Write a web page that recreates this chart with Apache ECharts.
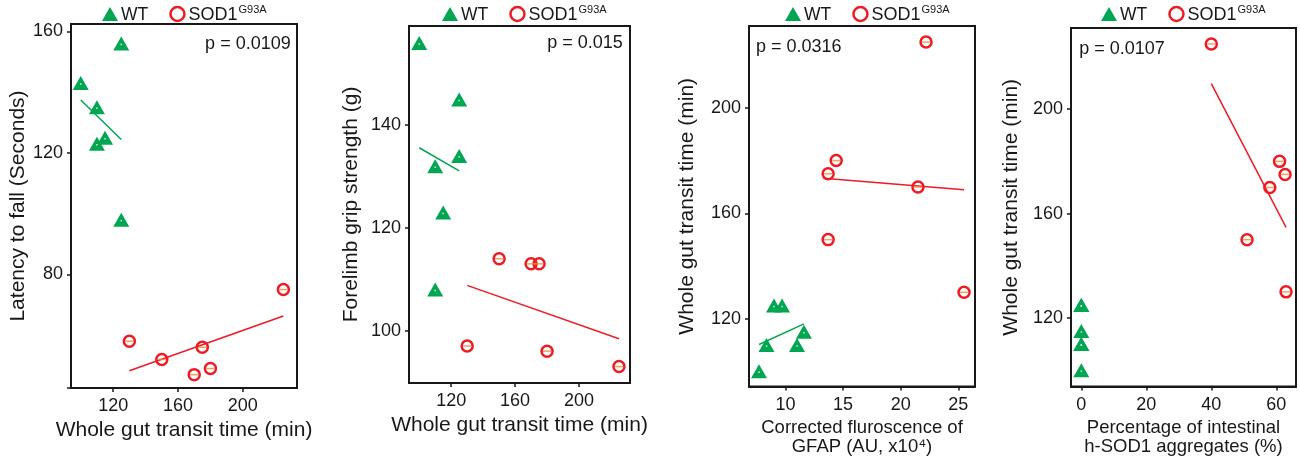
<!DOCTYPE html>
<html>
<head>
<meta charset="utf-8">
<script src="https://cdn.jsdelivr.net/npm/echarts@6/dist/echarts.min.js"></script>
<style>html,body{margin:0;padding:0;background:#fff}#c{width:1300px;height:461px}</style>
</head>
<body>
<div id="c"></div>
<script>
// ---- data ----
const wtLatencyTransit = [100,110,110,115,125,125];
const wtLatency        = [143,135,123,125,156,98];
const sodLatencyTransit= [130,150,170,175,180,225];
const sodLatency       = [58,52,47,56,49,75];
const wtLatencyFit     = [[100,137.4],[125,124.4]];
const sodLatencyFit    = [[130,48.3],[225,66.3]];

const wtGripTransit    = [100,110,110,115,125,125];
const wtGrip           = [156,132,108,123,145,134];
const sodGripTransit   = [130,150,170,175,180,225];
const sodGrip          = [97,114,113,113,96,93];
const wtGripFit        = [[100,135.6],[125,131.1]];
const sodGripFit       = [[130,108.8],[225,98.4]];

const wtGfap           = [7.7,8.35,9.0,9.7,11.0,11.6];
const wtGfapTransit    = [100,110,125,125,110,115];
const sodGfap          = [13.7,14.4,13.7,21.5,22.2,25.5];
const sodGfapTransit   = [175,180,150,170,225,130];
const wtGfapFit        = [[7.7,110.2],[11.6,118.0]];
const sodGfapFit       = [[13.3,173.3],[25.5,168.9]];

const wtAgg            = [0,0,0,0,0,0];
const wtAggTransit     = [100,110,110,115,125,125];
const sodAgg           = [40,51,58,61,62.7,63];
const sodAggTransit    = [225,150,170,180,175,130];
const sodAggFit        = [[40,209.8],[63,154.7]];

const xTicks = [[120,160,200],[120,160,200],[10,15,20,25],[0,20,40,60]];
const yTicks = [[80,120,160],[100,120,140],[120,160,200],[120,160,200]];
const xNames = ['Whole gut transit time (min)','Whole gut transit time (min)','Corrected fluroscence of\nGFAP (AU, x10⁴)','Percentage of intestinal\nh-SOD1 aggregates (%)'];
const yNames = ['Latency to fall (Seconds)','Forelimb grip strength (g)','Whole gut transit time (min)','Whole gut transit time (min)'];
const pValues = ['p = 0.0109','p = 0.015','p = 0.0316','p = 0.0107'];
const legendNames = ['WT','SOD1'];
const supText = 'G93A';

// ---- layout / style ----
const FONT = "'Liberation Sans', Arial, Helvetica, sans-serif";
const INK = '#1a1718';
const GREEN = '#00a651';
const RED = '#ed1c24';
const grids = [
  {left:71, top:24, width:226, height:364},
  {left:409, top:26, width:221, height:357},
  {left:749, top:26, width:226, height:363},
  {left:1071, top:28, width:225, height:364}
];
const xRanges = [[94,233.4],[93.6,231.9],[6.83,26.45],[-3.17,66.06]];
const yRanges = [[42.6,162.4],[89.8,159.3],[94.2,231.1],[93.7,231.1]];
const yNameGaps = [36,47,51,49.5];
const xNameGaps = [25,25,29.5,32];
const xNameSizes = [21,21,18.5,18.5];
const legendLeft = [97,437,780,1096];

const zip = (a,b) => a.map((v,i)=>[v,b[i]]);
const wtSets = [zip(wtLatencyTransit,wtLatency), zip(wtGripTransit,wtGrip), zip(wtGfap,wtGfapTransit), zip(wtAgg,wtAggTransit)];
const sodSets = [zip(sodLatencyTransit,sodLatency), zip(sodGripTransit,sodGrip), zip(sodGfap,sodGfapTransit), zip(sodAgg,sodAggTransit)];
const wtFits = [wtLatencyFit, wtGripFit, wtGfapFit, null];
const sodFits = [sodLatencyFit, sodGripFit, sodGfapFit, sodAggFit];

const option = {
  animation:false,
  backgroundColor:'#fff',
  textStyle:{fontFamily:FONT,color:INK},
  grid: grids.map(g=>Object.assign({show:true,borderColor:INK,borderWidth:2,backgroundColor:'transparent'},g)),
  xAxis: grids.map((g,i)=>({
    type:'value', gridIndex:i, min:xRanges[i][0], max:xRanges[i][1],
    splitLine:{show:false},
    axisLine:{show:true,onZero:false,lineStyle:{color:INK,width:2}},
    axisTick:{show:true,inside:false,length:4,lineStyle:{color:INK,width:1.5},customValues:xTicks[i]},
    axisLabel:{show:true,margin:9,fontSize:18,color:INK,fontFamily:FONT,customValues:xTicks[i]},
    name:xNames[i], nameLocation:'middle', nameGap:xNameGaps[i],
    nameTextStyle:{fontSize:xNameSizes[i],color:INK,fontFamily:FONT,lineHeight:xNameSizes[i]}
  })),
  yAxis: grids.map((g,i)=>({
    type:'value', gridIndex:i, min:yRanges[i][0], max:yRanges[i][1],
    splitLine:{show:false},
    axisLine:{show:true,onZero:false,lineStyle:{color:INK,width:2}},
    axisTick:{show:true,inside:false,length:4,lineStyle:{color:INK,width:1.5},
      customValues: i===0 ? [yRanges[0][0]].concat(yTicks[0]) : yTicks[i]},
    axisLabel:{show:true,margin:8,fontSize:18,color:INK,fontFamily:FONT,customValues:yTicks[i]},
    name:yNames[i], nameLocation:'middle', nameGap:yNameGaps[i],
    nameTextStyle:{fontSize:21,color:INK,fontFamily:FONT}
  })),
  legend: grids.map((g,i)=>({
    left:legendLeft[i], top:-1, itemWidth:16, itemHeight:14, itemGap:21,
    data:[{name:legendNames[0],icon:'triangle'},{name:legendNames[1],icon:'circle',itemStyle:{color:'rgba(0,0,0,0)',borderColor:RED,borderWidth:2.5}}],
    selectedMode:false,
    formatter: n => n===legendNames[1] ? '{a|'+n+'}{s|'+supText+'}' : '{w|'+n+'}',
    textStyle:{fontFamily:FONT,color:INK,padding:[0,0,0,-2],
      rich:{a:{fontSize:18,fontFamily:FONT,color:INK,lineHeight:20,verticalAlign:'bottom'},
            w:{fontSize:17.5,fontFamily:FONT,color:INK,lineHeight:20,verticalAlign:'bottom'},
            s:{fontSize:11,fontFamily:FONT,color:INK,lineHeight:20,verticalAlign:'top',padding:[0,0,8,1]}}}
  })),
  graphic: pValues.map((t,i)=>({
    type:'text', silent:true,
    x: i<2 ? [290.7,622.7][i] : [756,1079.3][i-2],
    y: [43.7,42.7,46.7,49][i],
    style:{text:t, fill:INK, font:'18px '+FONT, textAlign: i<2?'right':'left', textVerticalAlign:'middle'}
  })),
  series: []
};

for (let i=0;i<4;i++){
  if (wtFits[i]) option.series.push({type:'line',name:'WT fit',xAxisIndex:i,yAxisIndex:i,data:wtFits[i],symbol:'none',lineStyle:{color:GREEN,width:1.5},silent:true,z:1});
  if (sodFits[i]) option.series.push({type:'line',name:'SOD1 fit',xAxisIndex:i,yAxisIndex:i,data:sodFits[i],symbol:'none',lineStyle:{color:RED,width:1.5},silent:true,z:1});
  option.series.push({type:'scatter',name:legendNames[0],xAxisIndex:i,yAxisIndex:i,data:wtSets[i],symbol:'triangle',symbolSize:[16,14],itemStyle:{color:GREEN,opacity:1},z:3});
  option.series.push({type:'scatter',name:'WT dot',xAxisIndex:i,yAxisIndex:i,data:wtSets[i],symbol:'rect',symbolSize:[1.5,1.5],symbolOffset:[0,1],itemStyle:{color:'#ffffff'},silent:true,z:4});
  option.series.push({type:'scatter',name:legendNames[1],xAxisIndex:i,yAxisIndex:i,data:sodSets[i],symbol:'circle',symbolSize:11,itemStyle:{color:'rgba(255,255,255,0)',borderColor:RED,borderWidth:2.5,opacity:1},z:3});
  option.series.push({type:'scatter',name:'SOD1 dash',xAxisIndex:i,yAxisIndex:i,data:sodSets[i],symbol:'rect',symbolSize:[8,1.5],itemStyle:{color:'#f0883a'},silent:true,z:4});
}

const chart = echarts.init(document.getElementById('c'), null, {renderer:'canvas'});
chart.setOption(option);
</script>
</body>
</html>
